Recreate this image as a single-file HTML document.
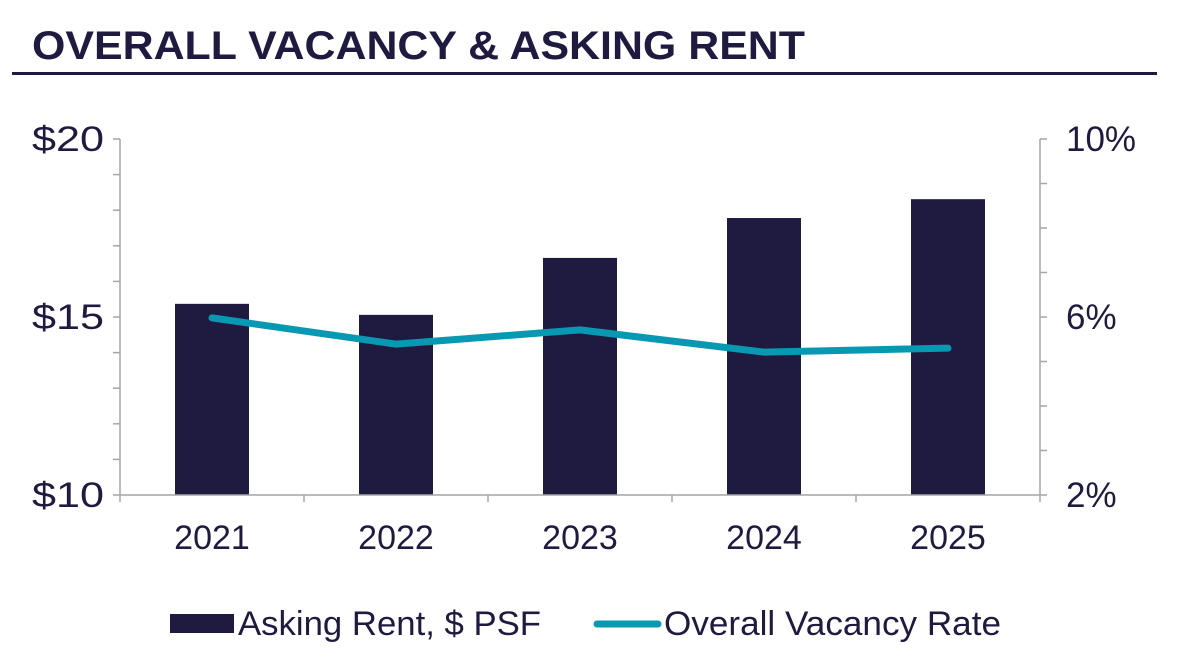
<!DOCTYPE html>
<html><head><meta charset="utf-8"><style>
body{margin:0;background:#fff;width:1177px;height:664px;overflow:hidden;font-family:"Liberation Sans",sans-serif}
</style></head><body>
<svg width="1177" height="664" xmlns="http://www.w3.org/2000/svg" font-family="Liberation Sans, sans-serif">
<text x="32" y="59" font-size="40" font-weight="bold" fill="#1f1a40" textLength="773" lengthAdjust="spacingAndGlyphs">OVERALL VACANCY &amp; ASKING RENT</text>
<rect x="12" y="72" width="1145" height="3" fill="#1f1a40"/>
<g id="chart"></g>
<g>
<rect x="170" y="614" width="64" height="19" fill="#1f1a40"/>
<text x="238" y="635" font-size="34" fill="#1f1a40" textLength="303" lengthAdjust="spacingAndGlyphs">Asking Rent, $ PSF</text>
<line x1="597" y1="624" x2="658" y2="624" stroke="#0899b2" stroke-width="7" stroke-linecap="round"/>
<text x="664" y="635" font-size="34" fill="#1f1a40" textLength="337" lengthAdjust="spacingAndGlyphs">Overall Vacancy Rate</text>
</g>
</svg>
<script>
const categories=["2021","2022","2023","2024","2025"];
const rentValues=[15.37,15.06,16.66,17.78,18.31];
const vacancyValues=[5.98,5.39,5.71,5.21,5.30];
const leftTicks=["$10","$15","$20"];
const leftTickValues=[10,15,20];
const rightTicks=["2%","6%","10%"];
const rightTickValues=[2,6,10];
const NS="http://www.w3.org/2000/svg";
const g=document.getElementById("chart");
const X0=120,X1=1040,Y0=495,Y1=139;
const yL=v=>Y0-(v-10)/10*(Y0-Y1);
const yR=v=>Y0-(v-2)/8*(Y0-Y1);
const bw=(X1-X0)/categories.length;
const xC=i=>X0+bw*(i+0.5);
function mk(t,a){const e=document.createElementNS(NS,t);for(const k in a)e.setAttribute(k,a[k]);g.appendChild(e);return e;}
rentValues.forEach((v,i)=>{const e=mk("rect",{x:xC(i)-37,y:yL(v),width:74,height:Y0-yL(v),fill:"#1f1a40"});

});
const st={stroke:"#a6a6a6","stroke-width":1.5};
let a=mk("line",{x1:X0,y1:Y1,x2:X0,y2:Y0,...st});


a=mk("line",{x1:X1,y1:Y1,x2:X1,y2:Y0,...st});


a=mk("line",{x1:X0,y1:Y0,x2:X1,y2:Y0,...st});


for(let v=10;v<=20;v++){const t=mk("line",{x1:X0-7,y1:yL(v),x2:X0,y2:yL(v),...st});

}
for(let v=2;v<=10;v++){const t=mk("line",{x1:X1,y1:yR(v),x2:X1+7,y2:yR(v),...st});

}
for(let i=0;i<=categories.length;i++){const t=mk("line",{x1:X0+bw*i,y1:Y0,x2:X0+bw*i,y2:Y0+7,...st});

}
leftTicks.forEach((s,i)=>{const t=mk("text",{x:X0-16,y:yL(leftTickValues[i])+12,"font-size":35,"text-anchor":"end",fill:"#1f1a40",textLength:72,lengthAdjust:"spacingAndGlyphs"});t.textContent=s;

});
rightTicks.forEach((s,i)=>{const t=mk("text",{x:X1+26,y:yR(rightTickValues[i])+12,"font-size":35,fill:"#1f1a40"});t.textContent=s;

});
categories.forEach((c,i)=>{const t=mk("text",{x:xC(i),y:549,"font-size":34,"text-anchor":"middle",fill:"#1f1a40"});t.textContent=c;

});
const pts=vacancyValues.map((v,i)=>xC(i)+","+yR(v)).join(" ");
const l=mk("polyline",{points:pts,fill:"none",stroke:"#0899b2","stroke-width":7,"stroke-linecap":"round","stroke-linejoin":"round"});


</script>
</body></html>
